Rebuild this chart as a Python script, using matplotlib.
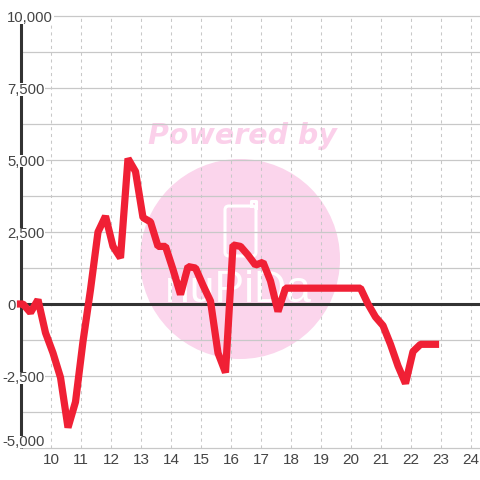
import matplotlib
matplotlib.use("Agg")
import matplotlib.pyplot as plt
from matplotlib.patches import Circle, FancyBboxPatch, Rectangle

# hours, one reading every 15 minutes from 9:05
start_hour = 9 + 5 / 60
step_hour = 0.25
values = [0, -300, 150, -1000, -1700, -2550, -4290, -3400,
          -1300, 500, 2500, 3050, 2000, 1600, 5050, 4600,
          3000, 2850, 2000, 2000, 1200, 330, 1300, 1250,
          650, 100, -1700, -2380, 2050, 2000, 1700, 1350,
          1450, 800, -260, 550, 550, 550, 550, 550,
          550, 550, 550, 550, 550, 550, 0, -450,
          -750, -1400, -2150, -2760, -1650, -1400, -1400, -1400]
hours = [start_hour + step_hour * i for i in range(len(values))]

y_ticks = [-5000, -2500, 0, 2500, 5000, 7500, 10000]
y_labels = ["-5,000", "-2,500", "0", "2,500", "5,000", "7,500", "10,000"]
y_minor = [-3750, -1250, 1250, 3750, 6250, 8750]
x_ticks = list(range(10, 25))

plt.rcParams["font.family"] = ["Liberation Sans", "DejaVu Sans"]

fig = plt.figure(figsize=(4.8, 4.8), dpi=100)
ax = fig.add_axes([0, 0, 1, 1])
# one data unit of x is 30 px, 72 px for each 2,500 of y
ax.set_xlim(9 - 20.5 / 30, 9 + 459.5 / 30)
ax.set_ylim(-5000 - 32 * 2500 / 72, 10000 + 16 * 2500 / 72)
ax.axis("off")

to_x = lambda px: 9 + (px - 20.5) / 30
to_y = lambda py: (304.5 - py) * 2500 / 72

# watermark, behind the grid
ax.add_patch(Circle((0.5, 1 - 259 / 480), 100 / 480, transform=ax.transAxes,
                    color="#fbd5ec", lw=0, zorder=1))
ax.add_patch(FancyBboxPatch((225 / 480, 1 - 256 / 480), 31 / 480, 50 / 480,
                            boxstyle="round,pad=0,rounding_size=0.008",
                            transform=ax.transAxes, fc="none", ec="white",
                            lw=2.2, zorder=1.5))
ax.plot([251 / 480, 251 / 480, 256 / 480, 256 / 480],
        [1 - 206 / 480, 1 - 201 / 480, 1 - 201 / 480, 1 - 208 / 480],
        transform=ax.transAxes, color="white", lw=2.2, zorder=1.5)
ax.text(238 / 480, 1 - 290 / 480, "nuPiDa", transform=ax.transAxes, color="white",
        fontsize=32, ha="center", va="center", zorder=1.5)
ax.text(242 / 480, 1 - 135.5 / 480, "Powered by", transform=ax.transAxes, color="#fbd0ea",
        fontsize=20.5, fontweight="bold", fontstyle="italic", family="DejaVu Sans",
        ha="center", va="center", zorder=1.5)

# grid
x_left = to_x(22)
x_right = to_x(480)
for t in y_ticks + y_minor:
    ax.plot([x_left, x_right], [t, t], color="#c8c8c8", lw=0.9, zorder=2)
for t in x_ticks:
    ax.plot([t, t], [to_y(448), to_y(16)], color="#c8c8c8", lw=0.75, ls=(0, (3, 3.5)), zorder=2)

# left axis and zero line
ax.plot([9, 9], [-5000, 10000], color="#333333", lw=2.2, solid_capstyle="butt", zorder=3)
ax.plot([9, x_right], [0, 0], color="#333333", lw=2.2, solid_capstyle="butt", zorder=3)

ax.plot([9] + hours, [0] + values, color="#f02035", lw=5.2, solid_joinstyle="bevel",
        solid_capstyle="projecting", zorder=4)

# tick labels sit on a tight white strip that breaks the axis line
renderer = fig.canvas.get_renderer()
for t, lab in zip(y_ticks, y_labels):
    # the lowest label is pushed up to stay inside the plot
    py = 304.5 - t * 72 / 2500 + 1
    if t == -5000:
        py = 442
    left = 2 if t < 0 else 7
    txt = ax.text(left / 480, 1 - py / 480, lab, transform=ax.transAxes, color="#444444",
                  fontsize=10.7, ha="left", va="center", zorder=3.6)
    if t != 0:
        right = txt.get_window_extent(renderer).x1 + 1
        strip_top = 8 if t == 10000 else 6
        ax.add_patch(Rectangle((0, 1 - (py + 6) / 480), right / 480, (6 + strip_top) / 480,
                               transform=ax.transAxes, fc="white", ec="none", zorder=3.5))
for t in x_ticks:
    ax.text(t + 0.02, to_y(461), str(t), color="#444444", fontsize=11, ha="center", va="center",
            zorder=3.6)

fig.savefig("out.png", dpi=100)
